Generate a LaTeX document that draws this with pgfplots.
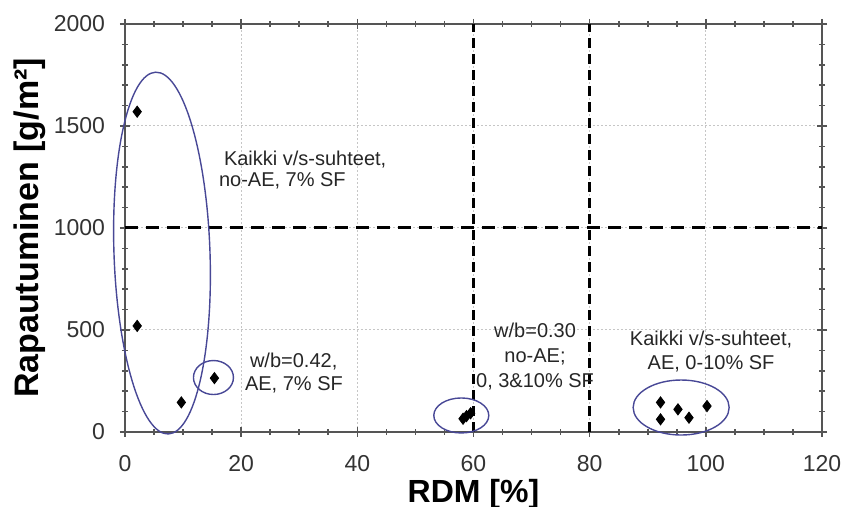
\documentclass[border=0pt]{standalone}
\usepackage{fontspec}
\setmainfont{Liberation Sans}
\usepackage{pgfplots}
\pgfplotsset{compat=1.18}
\definecolor{ringblue}{RGB}{72,72,150}
\definecolor{axgray}{RGB}{85,85,85}
\begin{document}
\begin{tikzpicture}
\begin{axis}[
    name=ax,
    scale only axis,
    width=348.5pt, height=204pt,
    xmin=0, xmax=120, ymin=0, ymax=2000,
    xtick={0,20,...,120}, ytick={0,500,...,2000},
    minor x tick num=3, minor y tick num=4,
    tick align=center,
    major tick length=5pt, minor tick length=3pt,
    every tick/.style={axgray, line width=0.8pt},
    axis line style={axgray, line width=1.2pt},
    grid=major,
    major grid style={gray!45, line width=0.5pt, dash pattern=on 1pt off 1pt},
    scaled ticks=false,
    /pgf/number format/1000 sep={},
    /pgf/number format/assume math mode=true,
    ticklabel style={font=\fontsize{11.5}{12}\selectfont, text=black!80},
    xticklabel style={yshift=-5.5pt},
    yticklabel style={xshift=-4pt},
    xlabel={RDM [\%]},
    ylabel={Rapautuminen [g/m²]},
    xlabel style={font=\bfseries\fontsize{16}{16}\selectfont, at={(axis description cs:0.5,-0.152)}, anchor=center},
    ylabel style={font=\bfseries\fontsize{17}{17}\selectfont, at={(axis description cs:-0.137,0.5)}, anchor=center},
    clip=false,
]
% dashed limit lines
\addplot[black, line width=1.5pt, dash pattern=on 6.5pt off 4pt] coordinates {(0,1000) (120,1000)};
\addplot[black, line width=1.5pt, dash pattern=on 5pt off 3pt] coordinates {(60,0) (60,2000)};
\addplot[black, line width=1.5pt, dash pattern=on 5pt off 3pt] coordinates {(80,0) (80,2000)};

% measured points
\addplot[only marks, mark=diamond*, mark size=2.8pt, black] coordinates {
    (2.1,1570) (2.1,520) (9.7,145) (15.4,264)
    (58.2,65) (58.8,78) (59.5,92)
    (92.2,145) (92.2,62) (95.2,111) (97.1,70) (100.2,127)
};

% groups
\draw[ringblue, line width=0.7pt, rotate around={2:(axis cs:6.37,877)}] (axis cs:6.37,877) ellipse [x radius=24pt, y radius=90.5pt];
\draw[ringblue, line width=0.7pt] (axis cs:15.23,267) ellipse [x radius=10pt, y radius=8.5pt];
\draw[ringblue, line width=0.7pt] (axis cs:57.9,81) ellipse [x radius=13.75pt, y radius=8.75pt];
\draw[ringblue, line width=0.7pt] (axis cs:95.75,120) ellipse [x radius=24pt, y radius=13.75pt];

\node[anchor=west, align=left, text=black!85, font=\fontsize{10}{10.5}\selectfont] at (axis cs:14.97,1284) {\hspace{2.5pt}Kaikki v/s-suhteet,\\no-AE, 7\% SF};
\node[anchor=west, align=left, text=black!85, font=\fontsize{10}{11.5}\selectfont] at (axis cs:19.45,287) {\hspace{2.5pt}w/b=0.42,\\AE, 7\% SF};
\node[align=center, text=black!85, font=\fontsize{10}{12.5}\selectfont] at (axis cs:70.6,369) {w/b=0.30\\no-AE;\\0, 3\&10\% SF};
\node[align=center, text=black!85, font=\fontsize{10}{12}\selectfont] at (axis cs:100.9,395) {Kaikki v/s-suhteet,\\AE, 0-10\% SF};
\end{axis}
\pgfresetboundingbox
\path ([xshift=-62.5pt,yshift=-37.5pt]ax.south west) rectangle ([xshift=9.5pt,yshift=12pt]ax.north east);
\end{tikzpicture}
\end{document}
